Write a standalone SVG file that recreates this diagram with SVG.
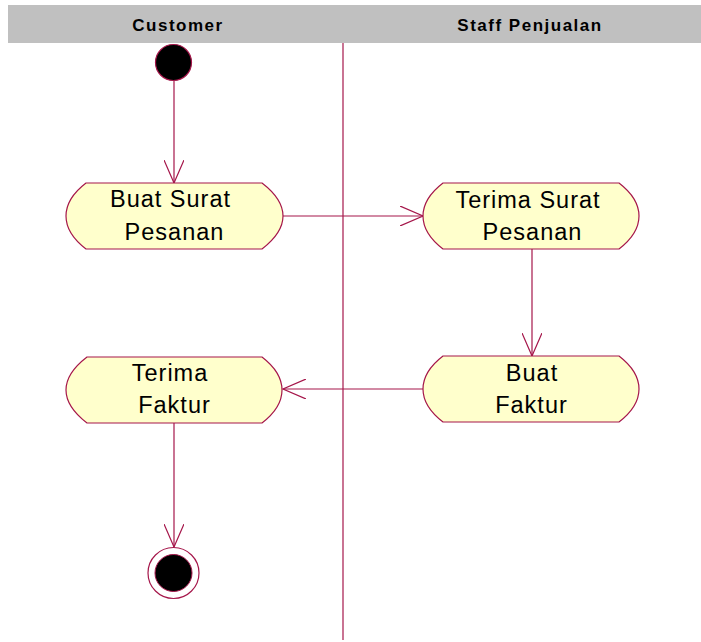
<svg xmlns="http://www.w3.org/2000/svg" width="701" height="642" viewBox="0 0 701 642">
<defs>
<style>
.lane{fill:#C0C0C0;}
.hdr{font-family:"Liberation Sans",Arial,sans-serif;font-weight:bold;font-size:17px;letter-spacing:1.5px;fill:#000;text-anchor:middle;}
.act{fill:#FFFFCC;stroke:#A5164A;stroke-width:1.2;}
.lbl{font-family:"Liberation Sans",Arial,sans-serif;font-size:23.5px;letter-spacing:1px;fill:#000;text-anchor:middle;}
.ln{stroke:#A5164A;stroke-width:1.2;fill:none;}
</style>
<marker id="open" viewBox="0 0 24 20" refX="23" refY="10" markerWidth="24" markerHeight="20" markerUnits="userSpaceOnUse" orient="auto">
<path d="M0,0 L23,10 L0,20" fill="none" stroke="#A5164A" stroke-width="1.2"/>
</marker>
</defs>
<rect width="701" height="642" fill="#FFFFFF"/>
<g id="swimlanes">
<rect class="lane" x="8" y="5" width="693" height="38"/>
<text class="hdr" x="178" y="31">Customer</text>
<text class="hdr" x="530" y="31">Staff Penjualan</text>
<line class="ln" x1="343" y1="43" x2="343" y2="640"/>
</g>
<g id="connectors">
<line class="ln" x1="174" y1="81" x2="174" y2="183" marker-end="url(#open)"/>
<line class="ln" x1="283" y1="216" x2="423" y2="216" marker-end="url(#open)"/>
<line class="ln" x1="532" y1="249" x2="532" y2="356" marker-end="url(#open)"/>
<line class="ln" x1="423" y1="389" x2="283" y2="389" marker-end="url(#open)"/>
<line class="ln" x1="174" y1="423" x2="174" y2="547" marker-end="url(#open)"/>
</g>
<g id="start">
<circle cx="173.5" cy="62.5" r="18" fill="#000" stroke="#A5164A" stroke-width="1.2"/>
</g>
<g id="buat-surat-pesanan">
<path class="act" d="M86,183 L262,183 C275,193 283,203 283,216 C283,229 275,239 262,249 L86,249 C73,239 66,229 66,216 C66,203 73,193 86,183 Z"/>
<text class="lbl" x="170.5" y="207">Buat Surat</text>
<text class="lbl" x="174.5" y="240">Pesanan</text>
</g>
<g id="terima-surat-pesanan">
<path class="act" d="M443,183 L619,183 C632,193 639,203 639,216 C639,229 632,239 619,249 L443,249 C430,239 423,229 423,216 C423,203 430,193 443,183 Z"/>
<text class="lbl" x="528" y="208">Terima Surat</text>
<text class="lbl" x="532.5" y="240">Pesanan</text>
</g>
<g id="buat-faktur">
<path class="act" d="M443,356 L619,356 C632,366 639,376 639,389 C639,402 632,412 619,422 L443,422 C430,412 423,402 423,389 C423,376 430,366 443,356 Z"/>
<text class="lbl" x="532" y="381">Buat</text>
<text class="lbl" x="531.5" y="413">Faktur</text>
</g>
<g id="terima-faktur">
<path class="act" d="M87,357 L262,357 C275,367 282,377 282,390 C282,403 275,413 262,423 L87,423 C74,413 66,403 66,390 C66,377 74,367 87,357 Z"/>
<text class="lbl" x="170" y="381">Terima</text>
<text class="lbl" x="174.5" y="413">Faktur</text>
</g>
<g id="end">
<circle cx="173.5" cy="573" r="25.5" fill="#FFFFFF" stroke="#A5164A" stroke-width="1.2"/>
<circle cx="173.5" cy="573" r="18.5" fill="#000" stroke="#A5164A" stroke-width="1"/>
</g>
</svg>
